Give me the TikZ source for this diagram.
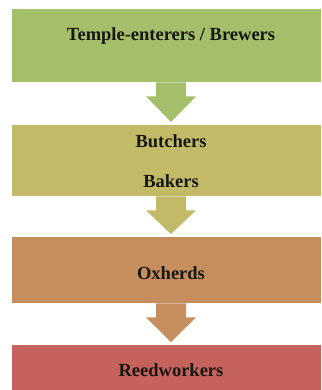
\documentclass[tikz,border=0pt]{standalone}
\usepackage{fontspec}
\setmainfont{Liberation Serif}
\usetikzlibrary{calc}

\definecolor{tierA}{RGB}{165,190,106}
\definecolor{tierB}{RGB}{195,186,104}
\definecolor{tierC}{RGB}{198,141,94}
\definecolor{tierD}{RGB}{197,98,91}
\definecolor{ink}{RGB}{22,22,18}

\tikzset{
  tierbox/.style={rectangle, draw=none, inner sep=0pt, anchor=north west,
                  minimum width=309pt},
  label/.style={font=\fontsize{18.5}{22}\selectfont\bfseries, text=ink, inner sep=0pt},
}

% block arrow from the bottom of one box to the top of the next
\newcommand{\tierarrow}[3]{%
  \fill[#3] ($(ax|-#1.south)+(-15,0)$) -- ++(0,14) -- ++(-10,0)
    -- ($(ax|-#2.north)+(0,-3)$)
    -- ($(ax|-#1.south)+(25,14)$) -- ++(-10,0) -- ++(0,-14) -- cycle;}

\begin{document}
\begin{tikzpicture}[x=1pt,y=-1pt]
  \useasboundingbox[fill=white] (0,0) rectangle (321,390);
  \coordinate (ax) at (171,0);

  \node[tierbox, fill=tierA, minimum height=73pt] (b1) at (12,9) {};
  \node[tierbox, fill=tierB, minimum height=71pt] (b2) at (12,125) {};
  \node[tierbox, fill=tierC, minimum height=66pt] (b3) at (12,237) {};
  \node[tierbox, fill=tierD, minimum height=50pt] (b4) at (12,345) {};

  \tierarrow{b1}{b2}{tierA}
  \tierarrow{b2}{b3}{tierB}
  \tierarrow{b3}{b4}{tierC}

  \node[label] (t1) at (171,36) {Temple-enterers / Brewers};
  \node[label] (t2) at (171,141) {Butchers};
  \node[label] (t3) at (171,181) {Bakers};
  \node[label] (t4) at (171,273) {Oxherds};
  \node[label] (t5) at (171,370) {Reedworkers};
\end{tikzpicture}
\end{document}
